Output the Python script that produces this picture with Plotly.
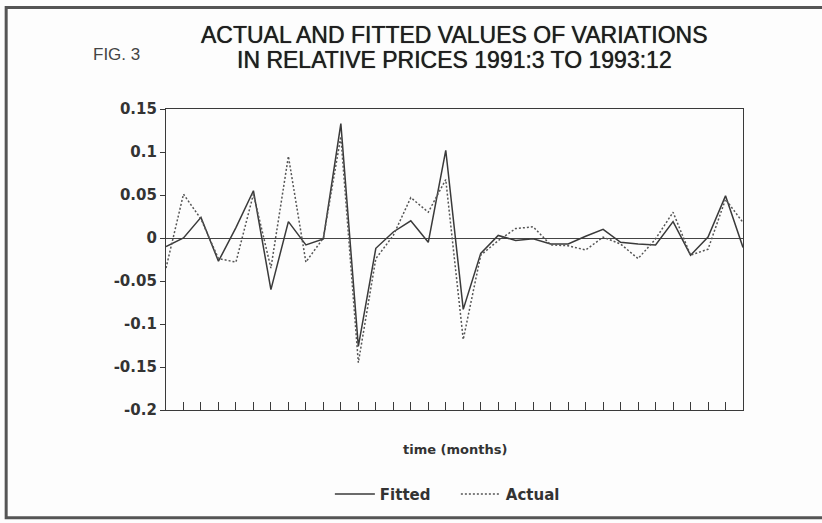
import plotly.graph_objects as go

months = list(range(34))  # 1991:3 .. 1993:12

fitted = [-0.010, 0.000, 0.024, -0.027, 0.012, 0.055, -0.060, 0.019, -0.008, -0.001,
          0.133, -0.126, -0.012, 0.007, 0.020, -0.005, 0.102, -0.083, -0.018, 0.003,
          -0.003, -0.001, -0.007, -0.007, 0.002, 0.010, -0.005, -0.007, -0.008, 0.019,
          -0.020, 0.001, 0.049, -0.011]

actual = [-0.035, 0.051, 0.022, -0.024, -0.028, 0.051, -0.035, 0.095, -0.028, 0.000,
          0.118, -0.145, -0.024, 0.003, 0.047, 0.030, 0.068, -0.118, -0.020, -0.003,
          0.011, 0.013, -0.008, -0.009, -0.014, 0.001, -0.007, -0.024, -0.001, 0.030,
          -0.020, -0.013, 0.045, 0.018]

ytick_vals = [0.15, 0.1, 0.05, 0, -0.05, -0.1, -0.15, -0.2]
ytick_text = ["0.15", "0.1", "0.05", "0", "-0.05", "-0.1", "-0.15", "-0.2"]

title_lines = ["ACTUAL AND FITTED VALUES OF VARIATIONS",
               "IN RELATIVE PRICES 1991:3 TO 1993:12"]

ink = "#3a3a3a"
bold = "DejaVu Sans"
title_font = dict(size=23, family="Liberation Sans", color="#1e1e1e",
                  shadow="0px 0px 0.7px #1e1e1e")

fig = go.Figure()
fig.add_trace(go.Scatter(x=months, y=fitted, mode="lines", name="Fitted",
                         line=dict(color=ink, width=1.5)))
fig.add_trace(go.Scatter(x=months, y=actual, mode="lines", name="Actual",
                         line=dict(color="#555555", width=1.5, dash="2px,2px")))

fig.update_layout(
    width=822, height=523,
    margin=dict(l=166, r=79, t=109, b=111),
    paper_bgcolor="#fdfdfd", plot_bgcolor="#fdfdfd",
    font=dict(family="Liberation Sans, Arial, sans-serif", color=ink),
    showlegend=True,
    legend=dict(orientation="h", x=0.284, xanchor="left", y=-0.225, yanchor="top",
                font=dict(size=15, family=bold, weight="bold", color="#333"),
                itemwidth=40, bgcolor="rgba(0,0,0,0)", entrywidth=71),
    annotations=[
        dict(text=title_lines[0], xref="paper", yref="paper", x=0.5, y=1.0, yshift=74,
             xanchor="center", yanchor="middle", showarrow=False, font=title_font),
        dict(text=title_lines[1], xref="paper", yref="paper", x=0.5, y=1.0, yshift=49,
             xanchor="center", yanchor="middle", showarrow=False, font=title_font),
        dict(text="FIG. 3", xref="paper", yref="paper", x=0, y=1, xshift=-75, yshift=55,
             xanchor="left", yanchor="middle", showarrow=False,
             font=dict(size=17, family="Liberation Sans", color="#444")),
        dict(text="time (months)", xref="paper", yref="paper", x=0.5, y=0, yshift=-39,
             xanchor="center", yanchor="middle", showarrow=False,
             font=dict(size=13, family=bold, weight="bold", color="#333")),
    ],
    shapes=[
        dict(type="rect", xref="paper", yref="paper", x0=-0.277, x1=1.2, y0=-0.358, y1=1.337,
             line=dict(color="#555", width=3), layer="below"),
    ],
)

fig.update_xaxes(range=[0, 33], tickvals=months, ticks="inside", ticklen=8,
                 tickcolor=ink, showticklabels=False, showgrid=False, zeroline=False,
                 showline=True, linecolor=ink, linewidth=1.2, mirror=True)
fig.update_yaxes(range=[-0.2, 0.15], tickvals=ytick_vals, ticktext=ytick_text,
                 ticks="outside", ticklen=5, tickcolor=ink, showgrid=False,
                 zeroline=True, zerolinecolor="#444", zerolinewidth=1.2,
                 showline=True, linecolor=ink, linewidth=1.2, mirror=True,
                 tickfont=dict(size=15, family=bold, weight="bold", color="#333"))

fig.write_html("out.html", config={"displayModeBar": False},
               post_script="document.body.style.margin='0';document.body.style.overflow='hidden';")
